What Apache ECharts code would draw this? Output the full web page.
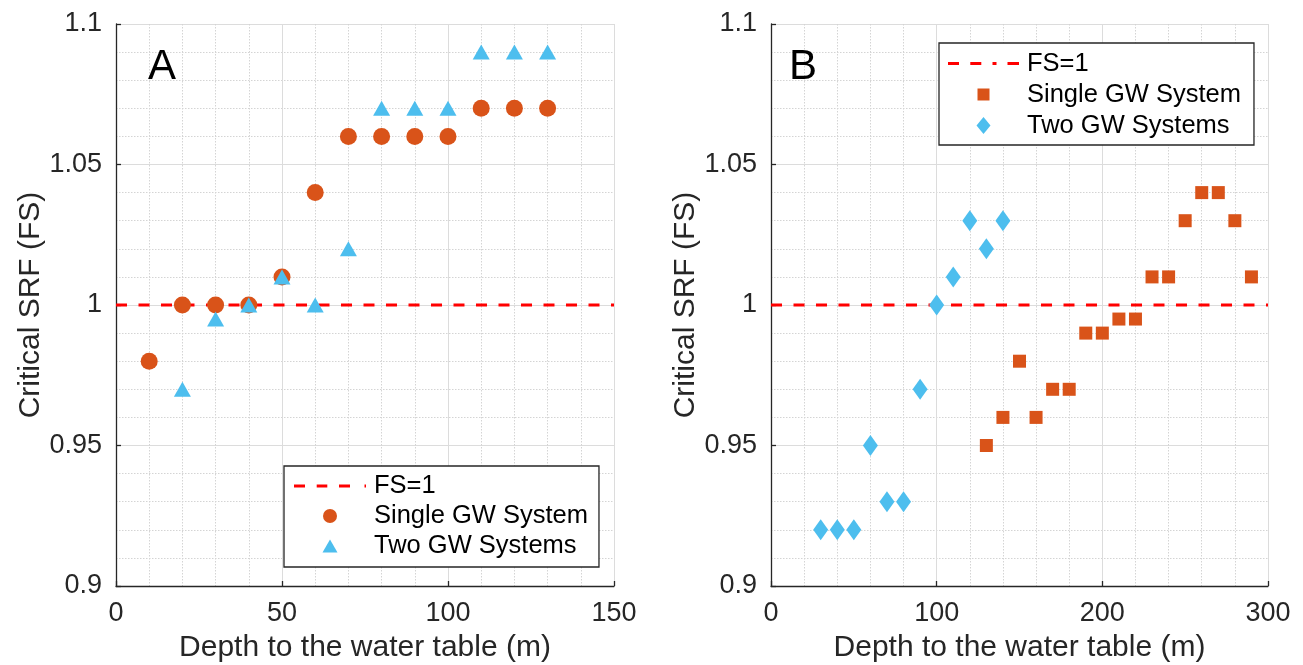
<!DOCTYPE html>
<html>
<head>
<meta charset="utf-8">
<script src="https://cdn.jsdelivr.net/npm/echarts@6/dist/echarts.min.js"></script>
<style>
html,body{margin:0;padding:0;background:#fff;}
#chart{width:1303px;height:665px;}
</style>
</head>
<body>
<div id="chart"></div>
<script>
// ---------- Data ----------
// Panel A
const depthSingleA = [10, 20, 30, 40, 50, 60, 70, 80, 90, 100, 110, 120, 130];
const srfSingleA   = [0.98, 1.00, 1.00, 1.00, 1.01, 1.04, 1.06, 1.06, 1.06, 1.06, 1.07, 1.07, 1.07];
const depthTwoA    = [20, 30, 40, 50, 60, 70, 80, 90, 100, 110, 120, 130];
const srfTwoA      = [0.97, 0.995, 1.00, 1.01, 1.00, 1.02, 1.07, 1.07, 1.07, 1.09, 1.09, 1.09];
// Panel B
const depthSingleB = [130, 140, 150, 160, 170, 180, 190, 200, 210, 220, 230, 240, 250, 260, 270, 280, 290];
const srfSingleB   = [0.95, 0.96, 0.98, 0.96, 0.97, 0.97, 0.99, 0.99, 0.995, 0.995, 1.01, 1.01, 1.03, 1.04, 1.04, 1.03, 1.01];
const depthTwoB    = [30, 40, 50, 60, 70, 80, 90, 100, 110, 120, 130, 140];
const srfTwoB      = [0.92, 0.92, 0.92, 0.95, 0.93, 0.93, 0.97, 1.00, 1.01, 1.03, 1.02, 1.03];
// Reference line and axes
const fsLevel = 1;
const xRangeA = [0, 150];
const xRangeB = [0, 300];
const xIntervalA = 50;
const xIntervalB = 100;
const yRange = [0.9, 1.1];
const yInterval = 0.05;
const seriesNames = ['FS=1', 'Single GW System', 'Two GW Systems'];
const panelLabels = ['A', 'B'];
const xAxisTitle = 'Depth to the water table (m)';
const yAxisTitle = 'Critical SRF (FS)';

// ---------- Styling ----------
const FONT = '"Liberation Sans", Arial, Helvetica, sans-serif';
const AXIS_COLOR = '#262626';
const ORANGE = '#D95319';
const BLUE = '#4DBEEE';
const RED = '#FF0000';

const zip = (xs, ys) => xs.map((x, i) => [x, ys[i]]);

function xAxisCfg(idx, range, interval) {
  return {
    type: 'value', gridIndex: idx, min: range[0], max: range[1], interval: interval,
    name: xAxisTitle, nameLocation: 'middle', nameGap: 47,
    nameTextStyle: {fontFamily: FONT, fontSize: 30, color: AXIS_COLOR},
    axisLine: {show: true, onZero: false, lineStyle: {color: AXIS_COLOR, width: 1.3}},
    axisTick: {show: true, inside: true, length: 5, lineStyle: {color: AXIS_COLOR, width: 1.3}},
    minorTick: {show: false, splitNumber: 5},
    axisLabel: {fontFamily: FONT, fontSize: 27, color: AXIS_COLOR, margin: 14},
    splitLine: {show: true, lineStyle: {color: '#dcdcdc', width: 1}},
    minorSplitLine: {show: true, lineStyle: {color: '#d4d4d4', width: 1, type: [1.5, 1.5]}}
  };
}
function yAxisCfg(idx) {
  return {
    type: 'value', gridIndex: idx, min: yRange[0], max: yRange[1], interval: yInterval,
    name: yAxisTitle, nameLocation: 'middle', nameGap: 59,
    nameTextStyle: {fontFamily: FONT, fontSize: 30, color: AXIS_COLOR},
    axisLine: {show: true, onZero: false, lineStyle: {color: AXIS_COLOR, width: 1.3}},
    axisTick: {show: true, inside: true, length: 5, lineStyle: {color: AXIS_COLOR, width: 1.3}},
    minorTick: {show: false, splitNumber: 5},
    axisLabel: {fontFamily: FONT, fontSize: 27, color: AXIS_COLOR, margin: 14,
      formatter: v => String(+v.toFixed(2))},
    splitLine: {show: true, lineStyle: {color: '#dcdcdc', width: 1}},
    minorSplitLine: {show: true, lineStyle: {color: '#d4d4d4', width: 1, type: [1.5, 1.5]}}
  };
}

function fsSeries(idx, range) {
  return {
    type: 'line', name: seriesNames[0], xAxisIndex: idx, yAxisIndex: idx,
    data: range.map(x => [x, fsLevel]), symbol: 'none', silent: true, z: 2,
    itemStyle: {color: RED},
    lineStyle: {color: RED, width: 3, type: [11, 11.5]}
  };
}

const legendText = {fontFamily: FONT, fontSize: 25.5, color: '#000', padding: [0, 0, 0, 3]};

const option = {
  animation: false,
  backgroundColor: '#ffffff',
  grid: [
    {left: 116, top: 24, width: 498, height: 562, containLabel: false, outerBoundsMode: 'none'},
    {left: 771, top: 24, width: 497, height: 562, containLabel: false, outerBoundsMode: 'none'}
  ],
  xAxis: [xAxisCfg(0, xRangeA, xIntervalA), xAxisCfg(1, xRangeB, xIntervalB)],
  yAxis: [yAxisCfg(0), yAxisCfg(1)],
  legend: [
    {
      left: 284, top: 466, orient: 'vertical', selectedMode: false,
      padding: [5, 11, 6, 10], itemGap: 0, itemWidth: 72, itemHeight: 14,
      borderColor: AXIS_COLOR, borderWidth: 1.3, backgroundColor: '#ffffff', borderRadius: 0,
      textStyle: Object.assign({lineHeight: 30}, legendText),
      data: [
        {name: seriesNames[0], icon: 'path://M0,5.5h11v3h-11zM22.7,5.5h10.6v3h-10.6zM45,5.5h11v3h-11zM70.5,5.5h1.5v3h-1.5z'},
        {name: seriesNames[1], icon: 'circle'},
        {name: seriesNames[2], icon: 'path://M0,-0.5M0,13.5M0,13L7.5,0L15,13Z'}
      ]
    },
    {
      left: 939, top: 43, orient: 'vertical', selectedMode: false,
      padding: [5, 13, 4, 9], itemGap: 0, itemWidth: 71, itemHeight: 17,
      borderColor: AXIS_COLOR, borderWidth: 1.3, backgroundColor: '#ffffff', borderRadius: 0,
      textStyle: Object.assign({lineHeight: 31}, legendText),
      data: [
        {name: seriesNames[0], icon: 'path://M0,5.5h11v3h-11zM22.3,5.5h11v3h-11zM44.5,5.5h4v3h-4zM59.5,5.5h11.5v3h-11.5z'},
        {name: seriesNames[1], icon: 'path://M0,0M17,17M2.5,2.5h12v12h-12z'},
        {name: seriesNames[2], icon: 'path://M7,0L14,8.5L7,17L0,8.5Z'}
      ]
    }
  ],
  graphic: [
    {type: 'text', x: 148, y: 67, z: 10, style: {text: panelLabels[0], fontFamily: FONT, fontSize: 42, fill: '#000', verticalAlign: 'middle', align: 'left'}},
    {type: 'text', x: 789, y: 67, z: 10, style: {text: panelLabels[1], fontFamily: FONT, fontSize: 42, fill: '#000', verticalAlign: 'middle', align: 'left'}}
  ],
  series: [
    fsSeries(0, xRangeA),
    {
      type: 'scatter', name: seriesNames[1], xAxisIndex: 0, yAxisIndex: 0, z: 3,
      data: zip(depthSingleA, srfSingleA), symbol: 'circle', symbolSize: 17,
      itemStyle: {color: ORANGE, opacity: 1}
    },
    {
      type: 'scatter', name: seriesNames[2], xAxisIndex: 0, yAxisIndex: 0, z: 4,
      data: zip(depthTwoA, srfTwoA), symbol: 'triangle', symbolSize: [17, 15],
      itemStyle: {color: BLUE, opacity: 1}
    },
    fsSeries(1, xRangeB),
    {
      type: 'scatter', name: seriesNames[1], xAxisIndex: 1, yAxisIndex: 1, z: 3,
      data: zip(depthSingleB, srfSingleB), symbol: 'rect', symbolSize: 13,
      itemStyle: {color: ORANGE, opacity: 1}
    },
    {
      type: 'scatter', name: seriesNames[2], xAxisIndex: 1, yAxisIndex: 1, z: 4,
      data: zip(depthTwoB, srfTwoB), symbol: 'diamond', symbolSize: [15, 21],
      itemStyle: {color: BLUE, opacity: 1}
    }
  ]
};

const chart = echarts.init(document.getElementById('chart'), null, {renderer: 'canvas'});
chart.setOption(option);
</script>
</body>
</html>
